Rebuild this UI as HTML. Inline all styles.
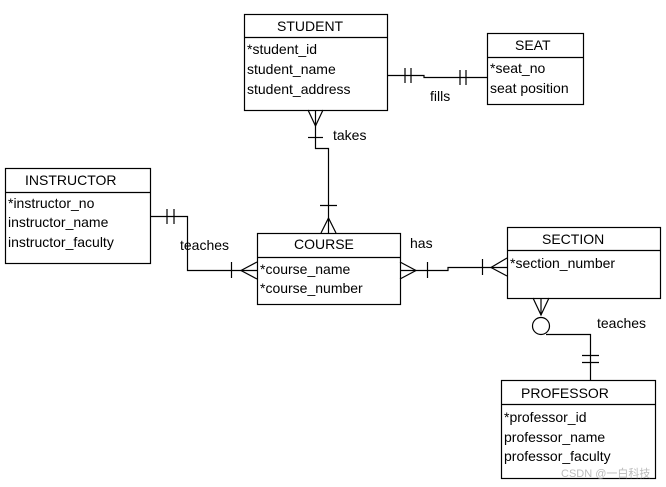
<!DOCTYPE html>
<html><head><meta charset="utf-8"><style>
body{margin:0;background:#fff;width:666px;height:487px;overflow:hidden}
svg{display:block}
text{font-family:"Liberation Sans",Arial,sans-serif;font-size:14px;fill:#000}
</style></head><body>
<svg width="666" height="487" viewBox="0 0 666 487" xmlns="http://www.w3.org/2000/svg">
<g fill="#fff" stroke="#000" stroke-width="1.2">
<rect x="244.5" y="14.5" width="143" height="96"/><line x1="244" y1="37.5" x2="388" y2="37.5"/>
<rect x="487.5" y="33.5" width="96" height="71"/><line x1="487" y1="57.5" x2="584" y2="57.5"/>
<rect x="5.5" y="168.5" width="145" height="95"/><line x1="5" y1="192.5" x2="151" y2="192.5"/>
<rect x="257.5" y="233.5" width="143" height="71"/><line x1="257" y1="257.5" x2="401" y2="257.5"/>
<rect x="507.5" y="227.5" width="153" height="71"/><line x1="507" y1="250.5" x2="661" y2="250.5"/>
<rect x="501.5" y="380.5" width="154" height="98"/><line x1="501" y1="404.5" x2="656" y2="404.5"/>
</g>
<g fill="none" stroke="#000" stroke-width="1.2">
<!-- student-seat -->
<polyline points="387,75.5 424,75.5 424,77.5 487,77.5"/>
<line x1="405" y1="68" x2="405" y2="83"/><line x1="411" y1="68" x2="411" y2="83"/>
<line x1="460" y1="70" x2="460" y2="85"/><line x1="466" y1="70" x2="466" y2="85"/>
<!-- takes -->
<polyline points="315.5,110 315.5,148.5 328.5,148.5 328.5,233"/>
<polyline points="308,110 315.5,126 323,110"/>
<line x1="308" y1="137.5" x2="323" y2="137.5"/>
<line x1="320" y1="205.5" x2="337" y2="205.5"/>
<polyline points="321,233 328.5,218 336,233"/>
<!-- instructor-course -->
<polyline points="150,216.5 187.5,216.5 187.5,270.5 257,270.5"/>
<line x1="167" y1="209" x2="167" y2="224"/><line x1="174" y1="209" x2="174" y2="224"/>
<line x1="231.5" y1="262" x2="231.5" y2="278"/>
<polyline points="257,262 241,270.5 257,279"/>
<!-- course-section -->
<polyline points="400,270.5 448,270.5 448,267.5 507,267.5"/>
<polyline points="400,262 416,270.5 400,279"/>
<line x1="427.5" y1="262" x2="427.5" y2="278"/>
<line x1="482.5" y1="259" x2="482.5" y2="275"/>
<polyline points="507,258 491,267.5 507,276"/>
<!-- section-professor -->
<polyline points="533,298 541,315 549,298"/>
<line x1="541" y1="298" x2="541" y2="315"/>
<circle cx="541" cy="326" r="8.5"/>
<polyline points="546,334.5 590.5,334.5 590.5,380"/>
<line x1="582" y1="355.5" x2="599" y2="355.5"/><line x1="582" y1="362.5" x2="599" y2="362.5"/>
</g>
<text x="277" y="31">STUDENT</text>
<text x="247" y="54">*student_id</text>
<text x="247" y="74">student_name</text>
<text x="247" y="94">student_address</text>
<text x="515" y="50">SEAT</text>
<text x="490" y="73">*seat_no</text>
<text x="490" y="93">seat position</text>
<text x="25" y="185">INSTRUCTOR</text>
<text x="8" y="208">*instructor_no</text>
<text x="8" y="227">instructor_name</text>
<text x="8" y="247">instructor_faculty</text>
<text x="294" y="249">COURSE</text>
<text x="260" y="274">*course_name</text>
<text x="260" y="293">*course_number</text>
<text x="542" y="244">SECTION</text>
<text x="510" y="268">*section_number</text>
<text x="521" y="398">PROFESSOR</text>
<text x="504" y="422">*professor_id</text>
<text x="504" y="442">professor_name</text>
<text x="504" y="461">professor_faculty</text>
<text x="430" y="101">fills</text>
<text x="333" y="140">takes</text>
<text x="180" y="250">teaches</text>
<text x="410" y="248">has</text>
<text x="597" y="328">teaches</text>
<text x="561" y="477" style="font-size:11px;fill:#bbb;font-family:'Liberation Sans','Noto Sans CJK SC',sans-serif">CSDN @一白科技</text>
</svg>
</body></html>
